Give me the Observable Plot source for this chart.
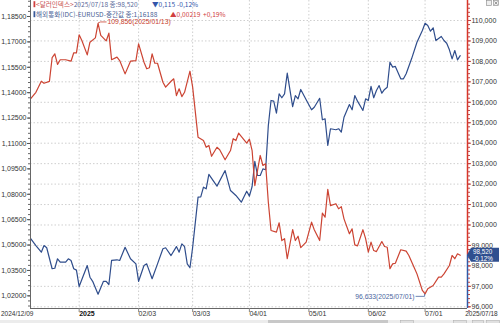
<!DOCTYPE html>
<html><head><meta charset="utf-8">
<script src="https://cdn.jsdelivr.net/npm/d3@7"></script>
<script src="https://cdn.jsdelivr.net/npm/@observablehq/plot@0.6"></script>
<style>
html,body{margin:0;padding:0;background:#fff;}
#chart{position:relative;width:500px;height:323px;overflow:hidden;}
</style></head><body><div id="chart"></div>
<script>
// ---- Dollar index (right axis, red) ----
const dxyDates = ["2024-12-09","2024-12-11","2024-12-13","2024-12-16","2024-12-18","2024-12-19","2024-12-20","2024-12-23","2024-12-24","2024-12-26","2024-12-30","2024-12-31","2025-01-01","2025-01-02","2025-01-03","2025-01-07","2025-01-08","2025-01-10","2025-01-13","2025-01-14","2025-01-16","2025-01-17","2025-01-20","2025-01-22","2025-01-23","2025-01-27","2025-01-29","2025-01-31","2025-02-03","2025-02-05","2025-02-06","2025-02-07","2025-02-10","2025-02-11","2025-02-12","2025-02-14","2025-02-17","2025-02-19","2025-02-20","2025-02-21","2025-02-24","2025-02-25","2025-02-26","2025-02-28","2025-03-03","2025-03-05","2025-03-07","2025-03-10","2025-03-11","2025-03-12","2025-03-14","2025-03-17","2025-03-19","2025-03-21","2025-03-24","2025-03-25","2025-03-26","2025-03-31","2025-04-01","2025-04-02","2025-04-03","2025-04-07","2025-04-08","2025-04-09","2025-04-10","2025-04-11","2025-04-15","2025-04-16","2025-04-17","2025-04-18","2025-04-21","2025-04-23","2025-04-24","2025-04-25","2025-04-28","2025-04-30","2025-05-02","2025-05-05","2025-05-07","2025-05-08","2025-05-09","2025-05-12","2025-05-13","2025-05-15","2025-05-16","2025-05-19","2025-05-20","2025-05-22","2025-05-23","2025-05-26","2025-05-27","2025-05-29","2025-05-30","2025-06-02","2025-06-03","2025-06-04","2025-06-05","2025-06-09","2025-06-10","2025-06-11","2025-06-12","2025-06-13","2025-06-16","2025-06-18","2025-06-20","2025-06-23","2025-06-25","2025-06-26","2025-06-30","2025-07-01","2025-07-02","2025-07-04","2025-07-08","2025-07-09","2025-07-10","2025-07-14","2025-07-15","2025-07-16","2025-07-17","2025-07-18"];
const dxyValues = [106.17,106.49,107.03,106.93,107.02,108.18,108.37,107.85,108.08,108.08,108.01,108.42,108.42,109.30,109.02,108.32,108.94,109.15,109.856,109.27,109.00,109.38,108.08,108.21,108.04,107.39,108.01,108.04,108.86,107.96,107.64,107.69,108.37,107.91,107.91,106.98,106.74,107.03,107.15,106.33,106.66,106.28,106.49,107.52,106.74,104.29,104.13,103.80,103.89,103.36,103.80,103.68,103.19,103.64,104.22,104.13,104.49,104.00,104.20,103.64,101.93,103.40,102.91,102.99,101.11,99.73,99.65,100.11,99.24,99.33,98.35,99.78,99.24,99.45,98.89,99.16,100.14,99.77,99.24,100.58,100.38,101.74,100.95,101.04,100.79,100.90,100.30,99.57,99.81,99.03,98.98,99.77,99.33,98.67,99.16,98.75,98.70,99.19,98.95,98.91,97.86,98.10,98.13,98.79,98.72,98.51,97.91,97.61,96.80,96.633,96.88,97.04,97.45,97.45,97.61,98.02,98.51,98.35,98.59,98.520];

// ---- EUR/USD (left axis, blue) ----
const eurDates = ["2024-12-09","2024-12-11","2024-12-13","2024-12-16","2024-12-17","2024-12-19","2024-12-20","2024-12-23","2024-12-24","2024-12-26","2024-12-27","2024-12-30","2024-12-31","2025-01-01","2025-01-02","2025-01-07","2025-01-08","2025-01-09","2025-01-13","2025-01-15","2025-01-16","2025-01-17","2025-01-20","2025-01-22","2025-01-23","2025-01-27","2025-01-29","2025-01-31","2025-02-03","2025-02-05","2025-02-06","2025-02-10","2025-02-12","2025-02-14","2025-02-17","2025-02-19","2025-02-21","2025-02-24","2025-02-25","2025-02-26","2025-02-27","2025-02-28","2025-03-03","2025-03-05","2025-03-06","2025-03-07","2025-03-10","2025-03-11","2025-03-14","2025-03-19","2025-03-21","2025-03-25","2025-03-27","2025-03-31","2025-04-01","2025-04-02","2025-04-03","2025-04-04","2025-04-07","2025-04-08","2025-04-09","2025-04-10","2025-04-11","2025-04-14","2025-04-15","2025-04-16","2025-04-17","2025-04-18","2025-04-21","2025-04-23","2025-04-24","2025-04-25","2025-04-28","2025-04-30","2025-05-02","2025-05-05","2025-05-07","2025-05-08","2025-05-09","2025-05-12","2025-05-13","2025-05-15","2025-05-16","2025-05-19","2025-05-20","2025-05-22","2025-05-23","2025-05-26","2025-05-27","2025-05-29","2025-05-30","2025-06-02","2025-06-03","2025-06-04","2025-06-05","2025-06-06","2025-06-09","2025-06-10","2025-06-11","2025-06-12","2025-06-13","2025-06-16","2025-06-18","2025-06-19","2025-06-20","2025-06-24","2025-06-26","2025-06-30","2025-07-01","2025-07-02","2025-07-03","2025-07-04","2025-07-07","2025-07-09","2025-07-10","2025-07-11","2025-07-14","2025-07-15","2025-07-16","2025-07-17","2025-07-18"];
const eurValues = [1.0540,1.0497,1.0458,1.0497,1.0484,1.0360,1.0363,1.0419,1.0399,1.0399,1.0419,1.0409,1.0360,1.0352,1.0255,1.0379,1.0310,1.0286,1.0210,1.0286,1.0286,1.0267,1.0409,1.0413,1.0409,1.0487,1.0419,1.0389,1.0286,1.0379,1.0389,1.0301,1.0389,1.0478,1.0484,1.0438,1.0491,1.0458,1.0507,1.0491,1.0389,1.0366,1.0487,1.0783,1.0785,1.0842,1.0832,1.0917,1.0848,1.0940,1.0822,1.0793,1.0753,1.0818,1.0789,1.0846,1.0995,1.0911,1.0911,1.0950,1.0945,1.1206,1.1354,1.1350,1.1279,1.1393,1.1370,1.1393,1.1515,1.1318,1.1383,1.1364,1.1419,1.1358,1.1299,1.1314,1.1367,1.1240,1.1246,1.1088,1.1187,1.1181,1.1187,1.1167,1.1255,1.1330,1.1299,1.1383,1.1350,1.1295,1.1364,1.1354,1.1437,1.1370,1.1413,1.1442,1.1397,1.1419,1.1432,1.1580,1.1551,1.1555,1.1482,1.1482,1.1512,1.1600,1.1698,1.1767,1.1810,1.1797,1.1763,1.1783,1.1708,1.1732,1.1708,1.1692,1.1653,1.1600,1.1649,1.1594,1.16188];

// ---- axes ----
const leftTicks = [1.020,1.035,1.050,1.065,1.080,1.095,1.110,1.125,1.140,1.155,1.170,1.185];
const rightTicks = [96,97,98,99,100,101,102,103,104,105,106,107,108,109,110];
const xTickDates = ["2025-01-02","2025-02-03","2025-03-03","2025-04-01","2025-05-01","2025-06-02","2025-07-01"];
const xTickLabels = ["2025","02/03","03/03","04/01","05/01","06/02","07/01"];
const xStartLabel = "2024/12/09";
const xEndLabel = "2025/07/18";

// ---- legend texts ----
const legendDxy = ["<달러인덱스>", "2025/07/18 종:98,520", "▼0,115", "-0,12%"];
const legendEur = ["해외통화(IDC)-EURUSD-중간값 종:1,16188", "▲0,00219", "+0,19%"];
const lastBox = ["98,520", "-0,12%"];

const RED = "#cc4433", BLUE = "#2f4d8c";
const NUM_FONT = "'Liberation Sans', Arial, sans-serif";
const KR_FONT = "'Noto Sans CJK KR', 'Noto Sans', sans-serif";

const start = Date.UTC(2024, 11, 9);
function wd(s) { // weekday index since start (x is trading-day axis)
  const days = Math.round((Date.parse(s + "T00:00:00Z") - start) / 864e5);
  return Math.floor(days / 7) * 5 + (days % 7);
}
// dual axis: map DXY values into the EUR/USD y scale
const toEur = d => 1.18264 - (110 - d) * 0.012079;
const fromEur = v => 110 - (1.18264 - v) / 0.012079;
const fmtL = v => d3.format(".5f")(v).replace(".", ",");
const fmtR = v => d3.format(".3f")(v).replace(".", ",");

const dxy = dxyDates.map((d, k) => ({i: wd(d), date: d, v: dxyValues[k]}));
const eur = eurDates.map((d, k) => ({i: wd(d), date: d, v: eurValues[k]}));
const xTicks = xTickDates.map((d, k) => ({i: wd(d), label: xTickLabels[k]}));

const X0 = 0, X1 = 161.7;
const Y0 = 1.01253, Y1 = 1.19445;
const lastDxy = dxy[dxy.length - 1];

const leftMinor = d3.range(1.014, 1.1945, 0.003);
const rightMinor = d3.range(95.8, 110.95, 0.2).map(toEur);

const chart = Plot.plot({
  width: 500, height: 323,
  marginLeft: 30, marginRight: 33, marginTop: 0, marginBottom: 15,
  x: {domain: [X0, X1], axis: null},
  y: {domain: [Y0, Y1], axis: null},
  style: {fontFamily: NUM_FONT, fontSize: "7px", color: "#444", background: "#fff", overflow: "visible"},
  marks: [
    Plot.ruleY(rightTicks.map(toEur), {stroke: "#cfcfcf", strokeDasharray: "1.5,2"}),
    Plot.ruleX(xTicks, {x: "i", stroke: "#cfcfcf", strokeDasharray: "1.5,2"}),
    Plot.line(eur, {x: "i", y: "v", stroke: BLUE, strokeWidth: 1.2}),
    Plot.line(dxy, {x: "i", y: d => toEur(d.v), stroke: RED, strokeWidth: 1.2}),
    // left axis
    Plot.ruleX([X0], {stroke: "#666"}),
    Plot.axisY(leftMinor, {anchor: "left", tickSize: 2, tickFormat: () => "", stroke: "#666", label: null}),
    Plot.axisY(leftTicks, {anchor: "left", tickSize: 3, tickPadding: 1, tickFormat: fmtL, fill: "#333", stroke: "#555", label: null}),
    // right axis
    Plot.ruleX([X1], {y1: toEur(lastDxy.v), y2: Y1, stroke: "#d8362a", strokeWidth: 1.5}),
    Plot.ruleX([X1], {y1: Y0, y2: toEur(lastDxy.v), stroke: "#2f5aa8", strokeWidth: 1.5}),
    Plot.axisY(rightMinor, {anchor: "right", tickSize: 2, tickFormat: () => "", stroke: "#b44", label: null}),
    Plot.axisY(rightTicks.map(toEur), {anchor: "right", tickSize: 3, tickPadding: 1, tickFormat: v => fmtR(fromEur(v)), fill: "#333", stroke: "#b44", label: null}),
    // x axis
    Plot.ruleY([Y0], {stroke: "#666"}),
    Plot.axisX(xTicks.map(d => d.i), {anchor: "bottom", tickSize: 4, tickFormat: () => "", stroke: "#888", label: null}),
    Plot.text(xTicks.filter(d => d.label !== "2025"), {x: "i", text: "label", frameAnchor: "bottom", dy: 7, dx: 0, textAnchor: "start", fill: "#333"}),
    Plot.text(xTicks.filter(d => d.label === "2025"), {x: "i", text: "label", frameAnchor: "bottom", dy: 7, dx: 0, textAnchor: "start", fill: "#111", fontWeight: "bold"}),
    Plot.text([dxy[0]], {x: "i", text: () => xStartLabel, frameAnchor: "bottom", dy: 7, dx: 3, textAnchor: "end", fill: "#333", fontSize: 6.5}),
    Plot.text([lastDxy], {x: "i", text: () => xEndLabel, frameAnchor: "bottom", dy: 7, dx: 5, textAnchor: "start", fill: "#333", fontSize: 6.5})
  ]
});

document.getElementById("chart").appendChild(chart);

const sx = chart.scale("x"), sy = chart.scale("y");
const svg = d3.select(chart);
const g = svg.append("g").attr("text-anchor", "start");

// max / min annotations
const maxP = dxy.reduce((a, b) => (b.v > a.v ? b : a));
const minP = dxy.reduce((a, b) => (b.v < a.v ? b : a));
{
  const px = sx.apply(maxP.i), py = sy.apply(toEur(maxP.v));
  g.append("path").attr("d", `M${px + 0.5},${py} L${px + 3},${py - 1} L${px + 9},${py - 1}`)
    .attr("stroke", "#c8402e").attr("fill", "none").attr("stroke-width", 0.8);
  g.append("text").attr("x", px + 10).attr("y", py + 1.5).attr("text-anchor", "start")
    .attr("font-family", NUM_FONT).attr("font-size", 6.8).attr("fill", "#c8402e")
    .text(d3.format(".3f")(maxP.v).replace(".", ",") + "(" + maxP.date.replace(/-/g, "/") + ")");
}
{
  const px = sx.apply(minP.i), py = sy.apply(toEur(minP.v));
  g.append("path").attr("d", `M${px},${py + 0.5} L${px},${py + 3} L${px - 9},${py + 3}`)
    .attr("stroke", "#4a66a0").attr("fill", "none").attr("stroke-width", 0.8);
  g.append("text").attr("x", px - 10).attr("y", py + 5.5).attr("text-anchor", "end")
    .attr("font-family", NUM_FONT).attr("font-size", 6.8).attr("fill", "#4a66a0")
    .text(d3.format(".3f")(minP.v).replace(".", ",") + "(" + minP.date.replace(/-/g, "/") + ")");
}

// last value box on right axis
{
  const rx = sx.apply(X1), cy = sy.apply(toEur(lastDxy.v));
  g.append("path").attr("d", `M${rx},${cy} L${rx + 4},${cy - 7} L${rx + 32},${cy - 7} L${rx + 32},${cy + 7} L${rx + 4},${cy + 7} Z`)
    .attr("fill", "#2f4f8f");
  g.append("text").attr("x", rx + 6).attr("y", cy - 0.8).attr("font-family", NUM_FONT).attr("font-size", 6.3).attr("fill", "#fff").text(lastBox[0]);
  g.append("text").attr("x", rx + 6).attr("y", cy + 5.8).attr("font-family", NUM_FONT).attr("font-size", 6.3).attr("fill", "#fff").text(lastBox[1]);
}

// legend (top-left, inside plot)
{
  const lx = sx.apply(X0);
  g.append("rect").attr("x", lx + 3.5).attr("y", 1.2).attr("width", 1.8).attr("height", 6).attr("fill", "#d04040");
  const t1 = g.append("text").attr("x", lx + 6).attr("y", 7).attr("font-family", KR_FONT).attr("font-size", 6.6);
  t1.append("tspan").attr("fill", "#c85050").text(legendDxy[0]);
  t1.append("tspan").attr("fill", "#5a6a9a").text(legendDxy[1]);
  t1.append("tspan").attr("x", lx + 122).attr("fill", "#3355aa").text(legendDxy[2]);
  t1.append("tspan").attr("x", lx + 147).attr("fill", "#3355aa").text(legendDxy[3]);
  g.append("rect").attr("x", lx + 3.5).attr("y", 11.2).attr("width", 1.8).attr("height", 6).attr("fill", "#3a5a9a");
  const t2 = g.append("text").attr("x", lx + 6).attr("y", 17).attr("font-family", KR_FONT).attr("font-size", 6.6);
  t2.append("tspan").attr("fill", "#4a5f95").text(legendEur[0]);
  t2.append("tspan").attr("x", lx + 140).attr("fill", "#d04040").text(legendEur[1]);
  t2.append("tspan").attr("x", lx + 173).attr("fill", "#d04040").text(legendEur[2]);
}

// window icons top-right and bottom scroll bar
g.append("rect").attr("x", 486.5).attr("y", 0.5).attr("width", 5).attr("height", 5).attr("fill", "#eee").attr("stroke", "#888").attr("stroke-width", 0.6);
g.append("rect").attr("x", 493.5).attr("y", 0.5).attr("width", 5).attr("height", 5).attr("fill", "#eee").attr("stroke", "#888").attr("stroke-width", 0.6);
g.append("path").attr("d", "M494.5,1.5 L497.5,4.5 M497.5,1.5 L494.5,4.5").attr("stroke", "#666").attr("stroke-width", 0.6);
g.append("rect").attr("x", 0).attr("y", 320).attr("width", 500).attr("height", 3).attr("fill", "#ececec");
g.append("rect").attr("x", 268).attr("y", 320).attr("width", 120).attr("height", 3).attr("fill", "#c8c8c8");
[[400, 13], [453, 13], [472, 11], [486, 13]].forEach(([x, w]) =>
  g.append("rect").attr("x", x + 0.5).attr("y", 320.5).attr("width", w).attr("height", 3).attr("fill", "#e0e0e0").attr("stroke", "#aaa").attr("stroke-width", 0.5));
</script>
</body></html>
